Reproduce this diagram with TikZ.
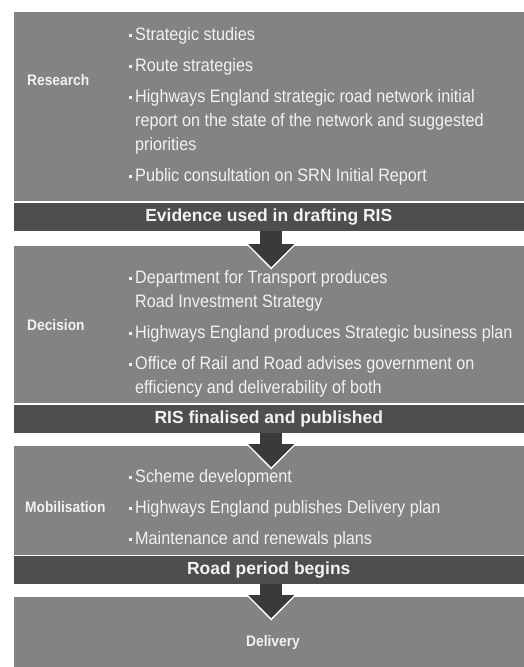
\documentclass[tikz,border=0pt]{standalone}
\usepackage{fontspec}
\setmainfont{Liberation Sans}[FakeStretch=0.9]
\newfontfamily\bandfont{Liberation Sans}
\usetikzlibrary{arrows.meta}

\definecolor{panelgray}{RGB}{131,131,131}
\definecolor{bandgray}{RGB}{78,78,78}
\definecolor{shaftgray}{RGB}{58,58,58}
\definecolor{textwhite}{RGB}{242,242,242}

% bullet and hanging indent for the item lists
\newcommand{\blt}{\strut\makebox[7pt][l]{\hspace{0.5pt}\rule[3.5pt]{3.5pt}{3.5pt}}}
\newcommand{\ind}{\strut\hspace*{7pt}}

\begin{document}
\begin{tikzpicture}[x=1pt,y=-1pt,
    panel/.style={fill=panelgray, minimum width=510.5pt, anchor=north west, inner sep=0pt, outer sep=0pt},
    band/.style={fill=bandgray, minimum width=510.5pt, minimum height=28pt, anchor=north west, inner sep=0pt, outer sep=0pt,
      text=textwhite, font=\bandfont\bfseries\fontsize{17.5}{20}\selectfont},
    stage/.style={text=textwhite, inner sep=0pt, font=\bfseries\fontsize{15.3}{18}\selectfont},
    items/.style={text=textwhite, align=left, anchor=north west, inner sep=0pt, font=\fontsize{18}{24}\selectfont},
    flowback/.style={white, line width=22pt, shorten >=-23.5pt, -{Triangle[width=53pt,length=27pt,line width=0pt]}},
    flow/.style={shaftgray, line width=22pt, shorten >=-21pt, -{Triangle[width=46pt,length=23pt,line width=0pt]}}]

      \useasboundingbox (0,0) rectangle (524,667);

      \node[panel, minimum height=189.5pt] (research) at (13.5,11.5) {};
      \node[band] (researchband) at (13.5,203) {Evidence used in drafting RIS};

      \node[panel, minimum height=157pt] (decision) at (13.5,246) {};
      \node[band] (decisionband) at (13.5,405) {RIS finalised and published};

      \node[panel, minimum height=109pt] (mobilisation) at (13.5,446) {};
      \node[band] (mobilisationband) at (13.5,556) {Road period begins};

      \node[panel, minimum height=70pt] (delivery) at (13.5,597) {};

      \node[stage, anchor=west] (researchlabel) at (27,80) {Research};
      \node[items] (researchitems) at (128,23.7) {\blt Strategic studies\\[7pt]
        \blt Route strategies\\[7pt]
        \blt Highways England strategic road network initial\\
        \ind report on the state of the network and suggested\\
        \ind priorities\\[7pt]
        \blt Public consultation on SRN Initial Report};

      \node[stage, anchor=west] (decisionlabel) at (27,325) {Decision};
      \node[items] (decisionitems) at (128,266.7) {\blt Department for Transport produces\\
        \ind Road Investment Strategy\\[7pt]
        \blt Highways England produces Strategic business plan\\[7pt]
        \blt Office of Rail and Road advises government on\\
        \ind efficiency and deliverability of both};

      \node[stage, anchor=west] (mobilisationlabel) at (25,507) {Mobilisation};
      \node[items] (mobilisationitems) at (128,465.7) {\blt Scheme development\\[7pt]
        \blt Highways England publishes Delivery plan\\[7pt]
        \blt Maintenance and renewals plans};

      \node[stage] (deliverylabel) at (273,643) {Delivery};

      \draw[flowback] ([xshift=2.5pt]researchband.south) -- ([xshift=2.5pt]decision.north);
      \draw[flow] ([xshift=2.5pt]researchband.south) -- ([xshift=2.5pt]decision.north);

      \draw[flowback] ([xshift=2.5pt]decisionband.south) -- ([xshift=2.5pt]mobilisation.north);
      \draw[flow] ([xshift=2.5pt]decisionband.south) -- ([xshift=2.5pt]mobilisation.north);

      \draw[flowback] ([xshift=2.5pt]mobilisationband.south) -- ([xshift=2.5pt]delivery.north);
      \draw[flow] ([xshift=2.5pt]mobilisationband.south) -- ([xshift=2.5pt]delivery.north);
  \end{tikzpicture}
\end{document}
